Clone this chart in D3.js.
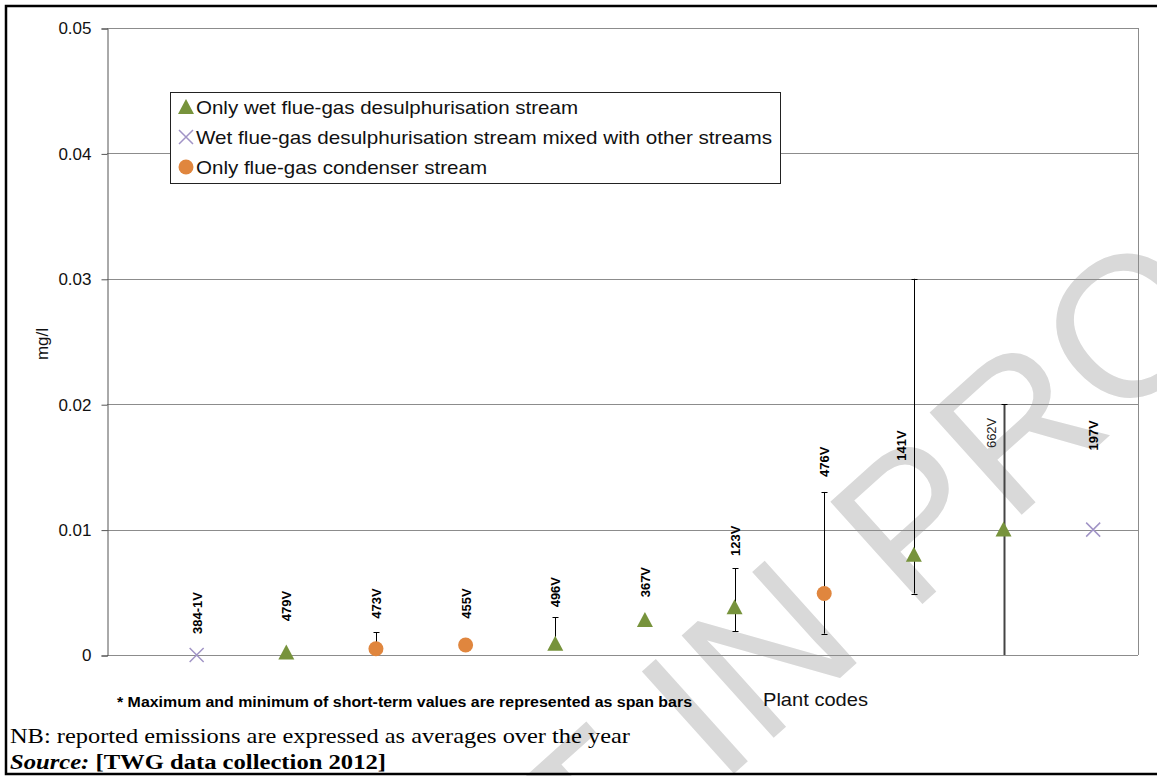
<!DOCTYPE html>
<html><head><meta charset="utf-8">
<script src="https://cdn.jsdelivr.net/npm/d3@7"></script>
<style>body{margin:0;background:#fff;}svg{display:block;}</style>
</head><body>
<svg id="c" width="1157" height="776"></svg>
<script>
const plants = ["384-1V","479V","473V","455V","496V","367V","123V","476V","141V","662V","197V"];
const series = ["mixed","wet","cond","cond","wet","wet","wet","cond","wet","wet","mixed"];
const seriesNames = ["Only wet flue-gas desulphurisation stream","Wet flue-gas desulphurisation stream mixed with other streams","Only flue-gas condenser stream"];
const values = [0, 0.0002, 0.0005, 0.0008, 0.0009, 0.0028, 0.0038, 0.0049, 0.008, 0.01, 0.01];
const maxVals = [null, null, 0.0018, null, 0.003, null, 0.0069, 0.013, 0.03, 0.02, null];
const minVals = [null, null, 0.0005, null, 0.0009, null, 0.0019, 0.0017, 0.0049, 0, null];
const labelAt = [0.00167, 0.0027, 0.0029, 0.0029, 0.0038, 0.0046, 0.0079, 0.0142, 0.0155, 0.0165, 0.0163];
const yTicks = [0, 0.01, 0.02, 0.03, 0.04, 0.05];

const svg = d3.select("#c");
const L = 107, R = 1138, T = 28, B = 655;
const x = d3.scaleLinear().domain([0, 11.5]).range([L, R]);
const y = d3.scaleLinear().domain([0, 0.05]).range([B, T]);
const colors = {wet:"#77933c", mixed:"#a194c6", cond:"#e0863e"};
const labelShift = {"141V": -13, "662V": -13};
const SANS = "Liberation Sans, Arial, sans-serif";
const SERIF = "Liberation Serif, Times New Roman, serif";

// watermark
svg.append("text").attr("transform","translate(923,510) rotate(-42)")
  .attr("text-anchor","middle").attr("dominant-baseline","central").attr("font-family",SANS)
  .attr("font-size",200).attr("fill","#d9d9d9").text("DRAFT IN PROGRESS");

// frame
svg.append("path").attr("d","M1160,6 H6 V774 H1160").attr("fill","none").attr("stroke","#000").attr("stroke-width",2.5);

// gridlines
svg.append("g").selectAll("line").data(yTicks.slice(1)).join("line")
  .attr("x1",L).attr("x2",R).attr("y1",d=>Math.round(y(d))+0.5).attr("y2",d=>Math.round(y(d))+0.5)
  .attr("stroke","#8c8c8c").attr("stroke-width",1);
svg.append("line").attr("x1",L).attr("x2",R).attr("y1",B+0.5).attr("y2",B+0.5).attr("stroke","#8c8c8c");
svg.append("line").attr("x1",R+0.5).attr("x2",R+0.5).attr("y1",T).attr("y2",B).attr("stroke","#8c8c8c");

// y axis
const yAxis = d3.axisLeft(y).tickValues(yTicks).tickFormat(d=>d===0?"0":d3.format(".2f")(d)).tickSize(6).tickPadding(10);
const ga = svg.append("g").attr("transform",`translate(${L+0.5},0.5)`).call(yAxis);
ga.select(".domain").attr("stroke","#555");
ga.selectAll(".tick line").attr("stroke","#555");
ga.selectAll(".tick text").attr("font-family",SANS).attr("font-size",17).attr("fill","#111");

svg.append("text").attr("transform","translate(48,344) rotate(-90)").attr("text-anchor","middle")
  .attr("font-family",SANS).attr("font-size",17).attr("fill","#111").text("mg/l");

// error bars
const eb = svg.append("g");
plants.forEach((p,i)=>{
  if (maxVals[i]===null) return;
  const cx = Math.round(x(i+1))+0.5;
  const thick = i===9;
  eb.append("line").attr("x1",cx).attr("x2",cx).attr("y1",y(maxVals[i])).attr("y2",y(minVals[i]))
    .attr("stroke",thick?"#444":"#000").attr("stroke-width",thick?2:1);
  [maxVals[i],minVals[i]].forEach(v=>{
    if (v===0 || v===values[i]) return;
    eb.append("line").attr("x1",cx-3).attr("x2",cx+3).attr("y1",Math.round(y(v))+0.5).attr("y2",Math.round(y(v))+0.5)
      .attr("stroke","#000").attr("stroke-width",1);
  });
});

// markers
function drawMarker(g, s, cx, cy){
  if (s==="wet") g.append("path").attr("d",`M${cx},${cy-8} L${cx+8},${cy+7} L${cx-8},${cy+7} Z`).attr("fill",colors.wet);
  else if (s==="cond") g.append("circle").attr("cx",cx).attr("cy",cy).attr("r",7.5).attr("fill",colors.cond);
  else g.append("path").attr("d",`M${cx-7},${cy-7} L${cx+7},${cy+7} M${cx-7},${cy+7} L${cx+7},${cy-7}`).attr("stroke",colors.mixed).attr("stroke-width",1.5).attr("fill","none");
}
const mk = svg.append("g");
plants.forEach((p,i)=>drawMarker(mk, series[i], x(i+1), y(values[i])));

// labels
svg.append("g").selectAll("text").data(plants).join("text")
  .attr("transform",(d,i)=>`translate(${x(i+1)+5+(labelShift[d]||0)},${y(labelAt[i])}) rotate(-90)`)
  .attr("font-family",SANS).attr("font-size",13)
  .attr("font-weight",(d,i)=>i===9?"normal":"bold").attr("fill",(d,i)=>i===9?"#222":"#000")
  .text(d=>d);

// legend
const lg = svg.append("g");
lg.append("rect").attr("x",170.5).attr("y",92.5).attr("width",610).attr("height",91).attr("fill","#fff").attr("stroke","#222");
const keys = ["wet","mixed","cond"];
const legendW = [382, 576, 291];
keys.forEach((k,i)=>{
  const cy = 107 + i*30;
  drawMarker(lg, k, 186, cy);
  lg.append("text").attr("x",196).attr("y",cy+7).attr("font-family",SANS)
    .attr("font-size",19).attr("textLength",legendW[i]).attr("lengthAdjust","spacingAndGlyphs")
    .attr("fill","#111").text(seriesNames[i]);
});

// notes
svg.append("text").attr("x",117).attr("y",707).attr("textLength",575).attr("lengthAdjust","spacingAndGlyphs")
  .attr("font-family",SANS).attr("font-weight","bold").attr("font-size",14).attr("fill","#000")
  .text("* Maximum and minimum of short-term values are represented as span bars");
svg.append("text").attr("x",763).attr("y",706).attr("font-family",SANS).attr("textLength",105).attr("lengthAdjust","spacingAndGlyphs")
  .attr("font-size",19).attr("fill","#111").text("Plant codes");
svg.append("text").attr("x",10).attr("y",743).attr("font-family",SERIF).attr("textLength",620).attr("lengthAdjust","spacingAndGlyphs")
  .attr("font-size",22).attr("fill","#000").text("NB: reported emissions are expressed as averages over the year");
const src = svg.append("text").attr("x",10).attr("y",769).attr("font-family",SERIF).attr("textLength",376).attr("lengthAdjust","spacingAndGlyphs")
  .attr("font-size",22).attr("font-weight","bold").attr("fill","#000");
src.append("tspan").attr("font-style","italic").text("Source:");
src.append("tspan").text(" [TWG data collection 2012]");
</script>
</body></html>
